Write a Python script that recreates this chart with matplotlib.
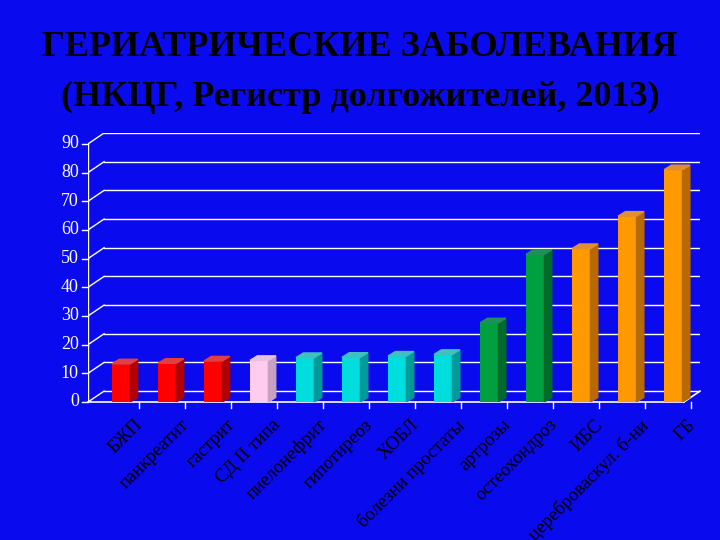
import numpy as np
import matplotlib
matplotlib.use("Agg")
import matplotlib.pyplot as plt
from matplotlib.patches import Polygon

categories = ["БЖП", "панкреатит", "гастрит", "СД II типа", "пиелонефрит", "гипотиреоз",
              "ХОБЛ", "болезни простаты", "артрозы", "остеохондроз", "ИБС",
              "цереброваскул. б-ни", "ГБ"]
values = [13.3, 13.5, 14.3, 14.5, 15.5, 15.6, 16.0, 16.6, 27.6, 51.5, 53.5, 64.8, 81.0]
front_colors = ["#FF0000"] * 3 + ["#FFCCF0"] + ["#00DDDD"] * 4 + ["#00A040"] * 2 + ["#FF9900"] * 3
side_colors = ["#B00000"] * 3 + ["#C8A0C0"] + ["#009A9A"] * 4 + ["#006A2A"] * 2 + ["#B86A00"] * 3
top_colors = ["#E04040"] * 3 + ["#E8C0E0"] + ["#40C0C0"] * 4 + ["#20905A"] * 2 + ["#E09030"] * 3
yticks = list(range(0, 100, 10))

BG = "#0A0AEE"
DX, DY = 0.35, 3.8     # wall depth offset
BDX, BDY = 0.16, 1.6   # bar depth offset
XL, XR = -0.6, 12.7

fig = plt.figure(figsize=(7.2, 5.4), dpi=100, facecolor=BG)
ax = fig.add_axes([88 / 720, 1 - 402 / 540, (700 - 88) / 720, (402 - 133) / 540])
ax.set_facecolor(BG)
ax.set_xlim(XL, XR)
ax.set_ylim(0, 90 + DY)
for s in ax.spines.values():
    s.set_visible(False)
ax.set_xticks([])
ax.set_yticks([])

# back wall gridlines and diagonals
for v in yticks:
    ax.plot([XL + DX, XR], [v + DY, v + DY], color="white", lw=1, zorder=1)
    ax.plot([XL, XL + DX], [v, v + DY], color="white", lw=1, zorder=1)
    ax.plot([XL - 0.12, XL], [v, v], color="white", lw=1, clip_on=False)
    ax.text(XL - 0.2, v, str(v), color="white", ha="right", va="center",
            fontsize=13, family="Liberation Serif", clip_on=False)
ax.plot([XL, XL], [0, 90], color="white", lw=1, zorder=1)
# floor front edge and ticks
ax.plot([XL, XR - DX], [0, 0], color="white", lw=1.2, zorder=1, clip_on=False)
ax.plot([XR - DX, XR], [0, DY], color="white", lw=1.2, zorder=1, clip_on=False)
for i in range(len(categories)):
    ax.plot([i + 0.5, i + 0.5], [0, -2], color="white", lw=1, clip_on=False)

w = 0.4
x = np.arange(len(categories)) + 0.12
ax.bar(x, values, width=w, color=front_colors, zorder=3)
for xi, v, sc, tc in zip(x, values, side_colors, top_colors):
    l, r = xi - w / 2, xi + w / 2
    ax.add_patch(Polygon([(r, 0), (r + BDX, BDY), (r + BDX, v + BDY), (r, v)], color=sc, zorder=3))
    ax.add_patch(Polygon([(l, v), (r, v), (r + BDX, v + BDY), (l + BDX, v + BDY)], color=tc, zorder=3))

for i, c in enumerate(categories):
    ax.text(i + 0.4, -5, c, rotation=45, ha="right", va="top", fontsize=13.5,
            family="Liberation Serif", color="black", rotation_mode="anchor", clip_on=False)

fig.text(0.5, 1 - 48 / 540, "ГЕРИАТРИЧЕСКИЕ ЗАБОЛЕВАНИЯ", ha="center", va="center",
         fontsize=26, fontweight="bold", family="Liberation Serif", color="black")
fig.text(0.5, 1 - 97 / 540, "(НКЦГ, Регистр долгожителей, 2013)", ha="center", va="center",
         fontsize=26, fontweight="bold", family="Liberation Serif", color="black")

fig.savefig("out.png", dpi=100, facecolor=BG)
